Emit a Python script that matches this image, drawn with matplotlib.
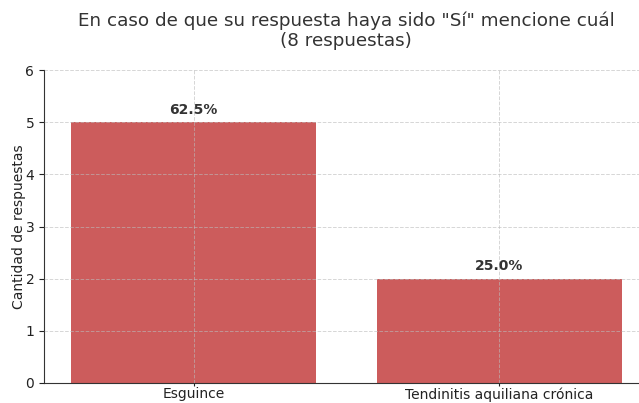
import matplotlib.pyplot as plt

categories = ["Esguince", "Tendinitis aquiliana crónica"]
counts = [5, 2]
total = 8
percent_labels = ["62.5%", "25.0%"]

fig = plt.figure(figsize=(6.39, 4.03), dpi=100)
# axes extends slightly past the right edge like the original (cropped)
ax = fig.add_axes([44 / 639, (403 - 383) / 403, 605 / 639, 313 / 403])

bars = ax.bar(categories, counts, width=0.8, color="#CC5C5C", zorder=2)
ax.grid(True, linestyle="--", linewidth=0.7, color="#bbbbbb", alpha=0.6, zorder=3)
ax.set_axisbelow(False)

for bar, lab in zip(bars, percent_labels):
    ax.text(bar.get_x() + bar.get_width() / 2, bar.get_height() + 0.1, lab,
            ha="center", va="bottom", fontsize=10, fontweight="bold", color="#333333")

ax.set_ylim(0, 6)
ax.set_xlim(-0.49, 1.49)
ax.set_ylabel("Cantidad de respuestas", fontsize=10, color="#222222", labelpad=-0.5)
ax.set_title('En caso de que su respuesta haya sido "Sí" mencione cuál\n(8 respuestas)',
             fontsize=13.2, color="#333333", pad=17, x=(346 - 44) / 605)
ax.tick_params(labelsize=10, colors="#222222")
ax.tick_params(axis="x", length=2, pad=1)
ax.spines["top"].set_visible(False)
ax.spines["right"].set_visible(False)
ax.spines["left"].set_color("#333333")
ax.spines["bottom"].set_color("#333333")

fig.savefig("out.png", dpi=100)
